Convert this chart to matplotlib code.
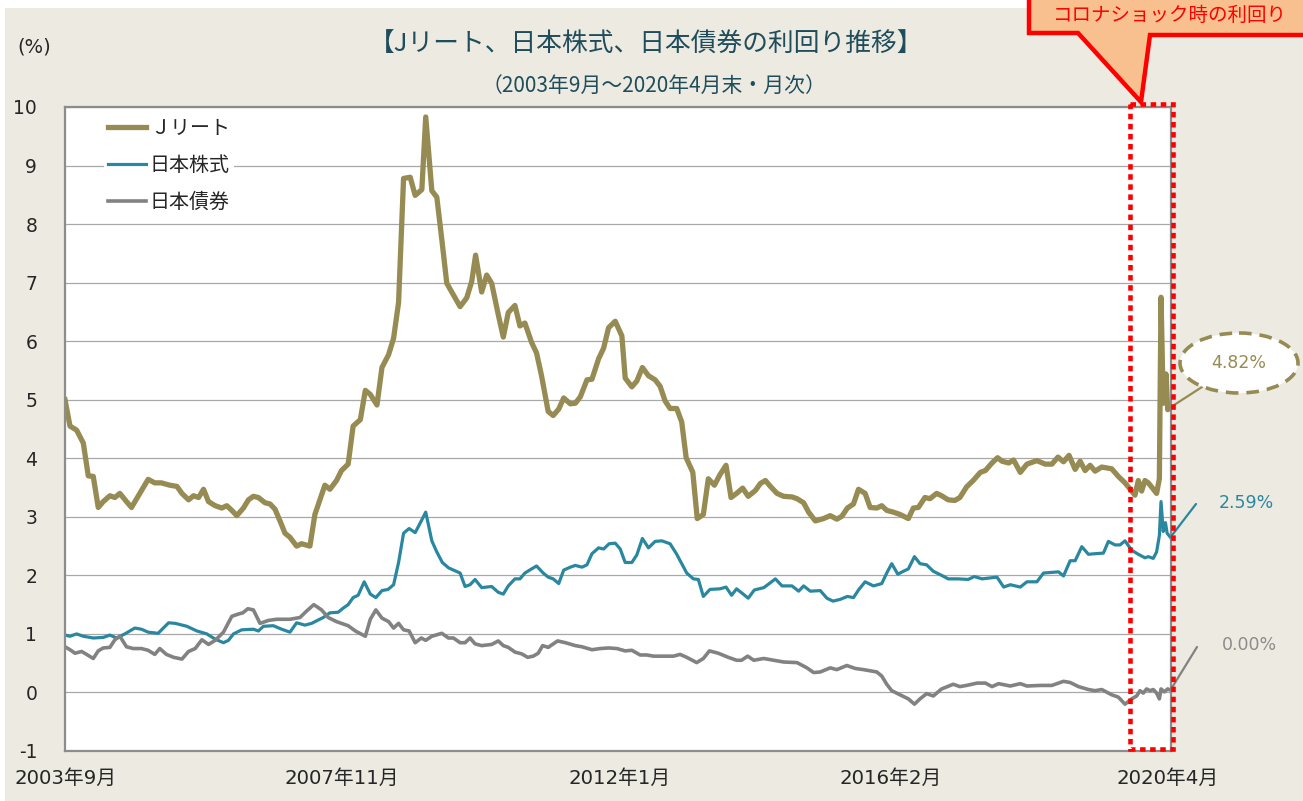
import matplotlib
matplotlib.use('Agg')
import matplotlib.pyplot as plt
from matplotlib.patches import Rectangle, Polygon, Ellipse

plt.rcParams['font.family'] = ['DejaVu Sans', 'Noto Sans CJK JP']

# ---------------- data (month index from 2003年9月 = 0) ----------------
jreit_x = [0, 0.9, 2.1, 3.3, 4.2, 5.1, 6.0, 6.9, 8.1, 9.0, 9.9, 11.1, 12.0, 13.5, 15.0, 16.2, 17.4,
           18.9, 20.2, 21.1, 22.3, 23.2, 24.1, 25.0, 25.9, 27.1, 28.3, 29.2, 30.1, 31.0, 32.2, 33.1,
           34.0, 34.9, 36.1, 37.0, 37.9, 38.8, 39.7, 40.6, 41.8, 42.7, 44.2, 45.1, 46.0, 46.9, 47.8,
           49.0, 49.9, 51.1, 52.0, 53.3, 54.2, 55.1, 56.3, 57.2, 58.4, 59.3, 60.2, 61.1, 62.3, 63.2,
           64.4, 65.1, 66.2, 67.1, 68.0, 68.9, 69.8, 71.3, 72.5, 73.4, 74.1, 75.2, 76.1, 77.0, 78.2,
           79.1, 80.0, 81.2, 82.1, 83.0, 84.2, 85.1, 86.0, 87.2, 88.1, 89.1, 90.0, 91.2, 92.1, 93.0,
           94.2, 95.1, 96.3, 97.2, 98.1, 99.3, 100.5, 101.1, 102.3, 103.2, 104.2, 105.3, 106.5,
           107.4, 108.3, 109.2, 110.4, 111.3, 112.1, 113.3, 114.1, 115.2, 116.1, 117.2, 118.2,
           119.3, 120.2, 121.2, 122.3, 123.3, 124.6, 125.5, 126.4, 127.3, 128.5, 129.7, 131.2,
           132.1, 133.3, 134.2, 135.4, 136.9, 138.1, 139.3, 140.2, 141.2, 142.3, 143.2, 144.4,
           145.3, 146.5, 147.4, 148.3, 149.5, 150.7, 152.2, 153.1, 154.0, 155.2, 156.1, 157.3,
           158.2, 159.4, 160.6, 161.5, 162.7, 163.9, 165.2, 166.1, 167.3, 168.3, 169.1, 170.3,
           171.2, 172.4, 173.6, 175.4, 176.9, 178.1, 179.2, 180.2, 181.2, 182.3, 183.2, 184.1,
           185.0, 185.9, 187.1, 188.9, 190.1, 191.3, 192.5, 193.1, 193.7, 194.3, 194.9, 195.5,
           196.1, 197.0, 197.5, 197.8, 198.2, 198.7, 199.0, 199.5]
jreit_y = [5.00, 4.55, 4.48, 4.26, 3.70, 3.69, 3.16, 3.26, 3.36, 3.33, 3.40, 3.26, 3.16, 3.40, 3.64,
           3.58, 3.58, 3.54, 3.52, 3.40, 3.29, 3.36, 3.33, 3.47, 3.26, 3.19, 3.15, 3.19, 3.11, 3.02,
           3.15, 3.29, 3.35, 3.33, 3.24, 3.22, 3.13, 2.93, 2.72, 2.65, 2.50, 2.54, 2.50, 3.04, 3.29,
           3.54, 3.47, 3.62, 3.79, 3.90, 4.55, 4.66, 5.16, 5.09, 4.91, 5.55, 5.77, 6.05, 6.66, 8.78,
           8.80, 8.49, 8.59, 9.83, 8.57, 8.46, 7.74, 6.99, 6.84, 6.59, 6.74, 7.02, 7.47, 6.84, 7.13,
           6.99, 6.45, 6.07, 6.49, 6.61, 6.26, 6.31, 5.98, 5.80, 5.41, 4.80, 4.73, 4.84, 5.03, 4.93,
           4.94, 5.05, 5.34, 5.35, 5.70, 5.88, 6.23, 6.34, 6.09, 5.37, 5.22, 5.32, 5.55, 5.41, 5.34,
           5.23, 4.98, 4.85, 4.85, 4.62, 4.01, 3.76, 2.97, 3.04, 3.65, 3.54, 3.72, 3.88, 3.33, 3.40,
           3.49, 3.35, 3.45, 3.57, 3.62, 3.52, 3.40, 3.35, 3.34, 3.31, 3.24, 3.08, 2.93, 2.97, 3.02,
           2.96, 3.01, 3.15, 3.22, 3.47, 3.40, 3.16, 3.15, 3.19, 3.11, 3.08, 3.04, 2.97, 3.15, 3.16,
           3.33, 3.31, 3.40, 3.36, 3.29, 3.28, 3.33, 3.51, 3.62, 3.76, 3.79, 3.92, 4.01, 3.95, 3.92,
           3.97, 3.76, 3.90, 3.96, 3.90, 3.90, 4.02, 3.94, 4.05, 3.81, 3.95, 3.79, 3.88, 3.78, 3.85,
           3.82, 3.69, 3.58, 3.44, 3.37, 3.62, 3.44, 3.62, 3.58, 3.51, 3.40, 3.65, 6.75, 4.94, 5.44,
           4.83, 4.87]

stock_x = [0, 0.9, 2.1, 3.3, 5.1, 6.9, 8.1, 9.3, 10.8, 12.6, 13.8, 15.0, 16.8, 18.7, 19.9, 22.0,
           23.8, 25.6, 27.1, 28.6, 29.5, 30.4, 31.9, 34.0, 34.9, 35.8, 37.6, 39.1, 40.6, 41.8, 43.3,
           44.5, 46.6, 47.8, 49.3, 50.2, 51.1, 52.0, 52.9, 54.0, 55.1, 56.1, 57.2, 58.3, 59.3, 60.2,
           61.1, 62.1, 63.2, 64.3, 65.1, 66.2, 67.1, 68.1, 69.2, 70.1, 71.3, 72.2, 73.1, 74.0, 75.2,
           77.0, 78.2, 79.1, 80.0, 81.2, 82.1, 83.0, 84.2, 85.1, 86.3, 87.2, 88.1, 89.1, 90.0, 91.2,
           92.1, 93.3, 94.2, 95.1, 96.3, 97.2, 98.2, 99.3, 100.2, 101.1, 102.3, 103.2, 104.2, 105.3,
           106.5, 107.7, 109.2, 110.4, 112.2, 113.4, 114.3, 115.2, 116.4, 118.2, 119.3, 120.3,
           121.2, 122.4, 123.3, 124.4, 126.1, 127.1, 128.2, 129.4, 131.2, 132.4, 133.3, 134.5,
           136.3, 137.5, 138.6, 139.9, 141.2, 142.3, 143.2, 144.4, 145.9, 147.4, 148.3, 149.2,
           150.3, 151.3, 152.2, 153.3, 154.3, 155.5, 156.7, 158.2, 159.4, 161.2, 163.0, 164.1,
           165.5, 168.2, 169.4, 170.6, 172.4, 173.6, 175.4, 176.6, 179.3, 180.2, 181.4, 182.3,
           183.5, 184.7, 185.9, 187.4, 188.3, 189.5, 190.4, 191.3, 192.5, 193.7, 194.9, 195.5,
           196.4, 197.0, 197.5, 197.8, 198.2, 198.6, 198.9, 199.5]
stock_y = [0.98, 0.96, 1.00, 0.96, 0.93, 0.94, 0.98, 0.93, 1.00, 1.10, 1.08, 1.03, 1.01, 1.19, 1.18,
           1.13, 1.05, 1.00, 0.91, 0.85, 0.89, 1.00, 1.07, 1.08, 1.05, 1.13, 1.14, 1.08, 1.03, 1.19,
           1.15, 1.18, 1.28, 1.36, 1.37, 1.44, 1.50, 1.62, 1.66, 1.89, 1.68, 1.62, 1.74, 1.76, 1.84,
           2.22, 2.72, 2.80, 2.73, 2.93, 3.08, 2.59, 2.40, 2.22, 2.13, 2.09, 2.04, 1.81, 1.84, 1.93,
           1.79, 1.81, 1.71, 1.68, 1.82, 1.94, 1.94, 2.04, 2.11, 2.16, 2.04, 1.97, 1.94, 1.86, 2.09,
           2.14, 2.17, 2.14, 2.18, 2.37, 2.47, 2.45, 2.54, 2.55, 2.45, 2.22, 2.22, 2.35, 2.63, 2.47,
           2.58, 2.59, 2.54, 2.36, 2.04, 1.94, 1.93, 1.64, 1.76, 1.77, 1.80, 1.66, 1.77, 1.68, 1.61,
           1.75, 1.79, 1.86, 1.94, 1.82, 1.82, 1.73, 1.82, 1.73, 1.74, 1.61, 1.56, 1.59, 1.64, 1.62,
           1.75, 1.89, 1.82, 1.86, 2.04, 2.20, 2.02, 2.07, 2.11, 2.32, 2.20, 2.18, 2.07, 2.00, 1.94,
           1.94, 1.93, 1.98, 1.94, 1.97, 1.80, 1.84, 1.80, 1.89, 1.89, 2.04, 2.06, 1.99, 2.25, 2.25,
           2.49, 2.36, 2.37, 2.38, 2.58, 2.52, 2.52, 2.59, 2.43, 2.36, 2.30, 2.32, 2.29, 2.40, 2.68,
           3.26, 2.75, 2.90, 2.72, 2.65]

bond_x = [0, 0.9, 1.8, 3.0, 3.9, 5.1, 6.0, 6.9, 8.1, 9.0, 9.9, 11.1, 12.3, 13.8, 15.0, 16.2, 17.1,
          18.3, 19.6, 21.1, 22.3, 23.5, 24.7, 25.9, 27.1, 28.6, 30.1, 31.3, 32.1, 33.0, 34.0, 35.2,
          36.7, 38.2, 39.4, 40.6, 42.4, 43.6, 44.9, 46.3, 47.5, 49.0, 49.9, 51.1, 52.4, 54.2, 55.1,
          56.1, 57.2, 58.4, 59.3, 60.2, 61.1, 62.1, 63.2, 64.3, 65.1, 66.2, 68.0, 69.2, 70.1, 71.3,
          72.2, 73.1, 74.0, 75.2, 77.0, 78.2, 79.1, 80.0, 81.2, 82.4, 83.5, 84.5, 85.4, 86.2, 87.2,
          88.9, 90.3, 92.1, 93.3, 95.1, 96.6, 98.1, 99.6, 101.1, 102.3, 103.8, 105.0, 106.2, 108.0,
          109.8, 111.0, 112.2, 114.0, 115.2, 116.3, 117.9, 119.7, 121.2, 122.1, 123.2, 124.3,
          126.1, 127.9, 129.7, 132.1, 133.9, 135.1, 136.3, 138.1, 139.3, 141.1, 142.6, 144.1,
          145.3, 146.5, 147.4, 148.3, 149.2, 150.7, 152.2, 153.3, 154.3, 155.5, 156.7, 158.2,
          160.3, 161.5, 162.7, 164.6, 166.1, 167.3, 168.5, 170.6, 172.4, 173.6, 176.0, 178.1,
          180.2, 181.4, 182.9, 184.7, 185.9, 187.1, 188.9, 190.1, 191.3, 192.5, 193.4, 194.0,
          194.6, 195.2, 195.8, 196.4, 197.0, 197.5, 197.8, 198.4, 199.0, 199.5]
bond_y = [0.78, 0.73, 0.67, 0.70, 0.65, 0.58, 0.71, 0.76, 0.77, 0.90, 0.96, 0.78, 0.75, 0.75, 0.72,
          0.65, 0.75, 0.65, 0.60, 0.57, 0.70, 0.75, 0.90, 0.82, 0.89, 1.03, 1.30, 1.34, 1.36, 1.43,
          1.41, 1.18, 1.23, 1.25, 1.25, 1.25, 1.28, 1.39, 1.50, 1.41, 1.28, 1.21, 1.18, 1.14, 1.05,
          0.96, 1.25, 1.41, 1.27, 1.21, 1.10, 1.18, 1.07, 1.05, 0.85, 0.93, 0.89, 0.96, 1.01, 0.93,
          0.93, 0.85, 0.85, 0.93, 0.83, 0.80, 0.82, 0.88, 0.80, 0.77, 0.69, 0.66, 0.60, 0.62, 0.67,
          0.80, 0.77, 0.88, 0.85, 0.80, 0.78, 0.73, 0.75, 0.76, 0.75, 0.71, 0.72, 0.64, 0.64, 0.62,
          0.62, 0.62, 0.65, 0.60, 0.51, 0.58, 0.71, 0.67, 0.60, 0.55, 0.55, 0.62, 0.55, 0.58, 0.55,
          0.52, 0.51, 0.42, 0.34, 0.35, 0.42, 0.39, 0.46, 0.41, 0.39, 0.37, 0.35, 0.28, 0.14, 0.03,
          -0.04, -0.11, -0.20, -0.11, -0.02, -0.06, 0.06, 0.14, 0.10, 0.12, 0.16, 0.16, 0.10, 0.15,
          0.11, 0.15, 0.11, 0.12, 0.12, 0.19, 0.17, 0.10, 0.05, 0.03, 0.05, -0.04, -0.08, -0.20,
          -0.11, -0.06, 0.03, -0.01, 0.06, 0.03, 0.05, -0.01, -0.11, 0.06, 0.01, 0.06, 0.04]

series_names = ['Ｊリート', '日本株式', '日本債券']
end_labels = ['4.82%', '2.59%', '0.00%']
tick_pos = [0, 50, 100, 149, 199]
tick_labels = ['2003年9月', '2007年11月', '2012年1月', '2016年2月', '2020年4月']
y_ticks = list(range(-1, 11))

title = '【Jリート、日本株式、日本債券の利回り推移】'
subtitle = '（2003年9月～2020年4月末・月次）'
callout_text = 'コロナショック時の利回り'

C_JREIT = '#978B54'
C_STOCK = '#2A87A0'
C_BOND = '#828282'
C_TITLE = '#1E4D5C'
BEIGE = '#EDEAE1'
JP = ['Noto Sans CJK JP', 'DejaVu Sans']

# ---------------- figure ----------------
W, H = 1303, 801
fig = plt.figure(figsize=(W / 100, H / 100), dpi=100, facecolor='white')

bg = fig.add_axes([0, 0, 1, 1], zorder=0)
bg.set_xlim(0, W); bg.set_ylim(H, 0); bg.axis('off')
bg.add_patch(Rectangle((5, 8), W - 5, H - 8, facecolor=BEIGE, edgecolor='none'))

L, R, T, B = 65, 1171, 107, 751
ax = fig.add_axes([L / W, 1 - B / H, (R - L) / W, (B - T) / H], zorder=2)
ax.set_facecolor('white')
ax.set_xlim(0, 199.6)
ax.set_ylim(-1, 10)
ax.set_yticks(y_ticks)
ax.set_yticklabels([str(v) for v in y_ticks])
ax.set_xticks(tick_pos)
ax.set_xticklabels(tick_labels)
ax.yaxis.grid(True, color='#A8A8A8', lw=0.9)
ax.set_axisbelow(True)
ax.tick_params(axis='both', length=0, colors='#262626')
ax.tick_params(axis='y', pad=20, labelsize=13.5)
ax.tick_params(axis='x', pad=13, labelsize=14.2)
for s in ax.spines.values():
    s.set_color('#8C8C8C')
    s.set_linewidth(1.6)

ax.plot(jreit_x, jreit_y, color=C_JREIT, lw=3.8, label=series_names[0])
ax.plot(stock_x, stock_y, color=C_STOCK, lw=2.3, label=series_names[1])
ax.plot(bond_x, bond_y, color=C_BOND, lw=2.6, label=series_names[2])

leg = ax.legend(loc='upper left', bbox_to_anchor=(0.035, 0.988), frameon=True, fancybox=False,
                facecolor='white', edgecolor='none', framealpha=1, fontsize=14.4,
                handlelength=1.9, handletextpad=0.2, labelspacing=0.9, borderpad=0.2,
                borderaxespad=0)
for t in leg.get_texts():
    t.set_color('#262626')

# ---------------- overlay (pixel coordinates) ----------------
ov = fig.add_axes([0, 0, 1, 1], zorder=5)
ov.set_xlim(0, W); ov.set_ylim(H, 0); ov.axis('off')
ov.patch.set_visible(False)

ov.text(17, 47, '(%)', fontsize=14, color='#262626', va='center', ha='left')
ov.text(646, 45, title, fontsize=18.5, color=C_TITLE, ha='center', va='center', family=JP)
ov.text(654, 86, subtitle, fontsize=15, color=C_TITLE, ha='center', va='center', family=JP)

# callout box (cut at top edge of picture)
ov.add_patch(Polygon([(1029, -20), (1029, 33), (1078, 33), (1141, 102), (1150, 35),
                      (1320, 35), (1320, -20)], closed=True, facecolor='#F8C08E',
                     edgecolor='#FF0000', lw=3.2, joinstyle='miter'))
ov.text(1170, 15, callout_text, fontsize=14, color='#FF0000', ha='center', va='center',
        family=JP)

# red dotted frame
ov.add_patch(Rectangle((1130, 104), 43, 645, facecolor='none', edgecolor='#FF0000',
                       lw=3.3, linestyle=(0, (1.2, 1.0))))

# end-value labels
ov.add_patch(Ellipse((1239, 363), 118, 60, facecolor='white', edgecolor=C_JREIT, lw=2.6,
                     linestyle=(0, (3.5, 2.2))))
ov.text(1239, 363, end_labels[0], fontsize=12.5, color=C_JREIT, ha='center', va='center')
ov.text(1246, 503, end_labels[1], fontsize=12.5, color=C_STOCK, ha='center', va='center')
ov.text(1249, 645, end_labels[2], fontsize=12.5, color='#8C8C8C', ha='center', va='center')

for xs, ys, col, pt in [(jreit_x, jreit_y, C_JREIT, (1202, 387)),
                        (stock_x, stock_y, C_STOCK, (1196, 504)),
                        (bond_x, bond_y, C_BOND, (1197, 647))]:
    ax.annotate('', xy=(xs[-1], ys[-1]), xycoords='data', xytext=pt, textcoords=ov.transData,
                arrowprops=dict(arrowstyle='-', color=col, lw=1.6, shrinkA=0, shrinkB=0),
                annotation_clip=False)

fig.savefig('out.png', dpi=100, facecolor=fig.get_facecolor())
